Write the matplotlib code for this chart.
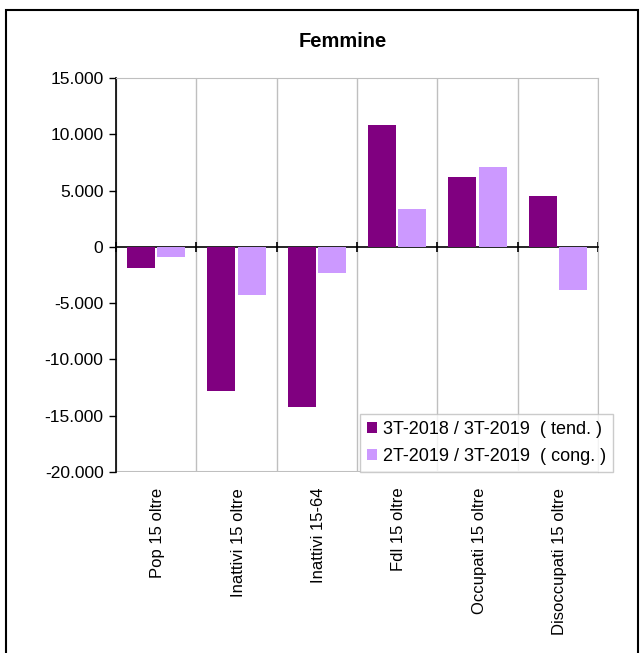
import numpy as np
import matplotlib.pyplot as plt
from matplotlib.patches import Rectangle
from matplotlib.ticker import FuncFormatter

plt.rcParams['font.family'] = ['Liberation Sans', 'DejaVu Sans']

# Data
categories = ['Pop 15 oltre', 'Inattivi 15 oltre', 'Inattivi 15-64',
              'Fdl 15 oltre', 'Occupati 15 oltre', 'Disoccupati 15 oltre']
tend = [-1900, -12800, -14200, 10800, 6200, 4500]
cong = [-900, -4300, -2300, 3400, 7100, -3800]
series_labels = ['3T-2018 / 3T-2019  ( tend. )', '2T-2019 / 3T-2019  ( cong. )']
yticks = [-20000, -15000, -10000, -5000, 0, 5000, 10000, 15000]

dark = '#800080'
light = '#CC99FF'
grey = '#BFBFBF'

fig = plt.figure(figsize=(6.4, 6.53), dpi=100)
# outer chart frame
fig.patches.append(Rectangle((6 / 640, -0.05), 632 / 640, 1.05 - 10 / 653,
                             transform=fig.transFigure, fill=False,
                             edgecolor='black', linewidth=1.5))

ax = fig.add_axes([116 / 640, 1 - 472 / 653, 482 / 640, 394 / 653])

x = np.arange(len(categories))
w = 0.35
ax.bar(x - 0.19, tend, w, color=dark, label=series_labels[0], zorder=3)
ax.bar(x + 0.19, cong, w, color=light, label=series_labels[1], zorder=3)

ax.set_xlim(-0.5, len(categories) - 0.5)
ax.set_ylim(-20000, 15000)
ax.set_yticks(yticks)
ax.yaxis.set_major_formatter(FuncFormatter(lambda v, p: f'{int(v):,}'.replace(',', '.')))
ax.tick_params(axis='y', labelsize=12.5, direction='out', length=5, width=1, pad=4)

# x axis sits at zero, ticks at category boundaries
ax.spines['bottom'].set_position(('data', 0))
ax.spines['bottom'].set_color('black')
ax.spines['bottom'].set_linewidth(1.2)
ax.spines['left'].set_linewidth(1.2)
ax.spines['top'].set_color(grey)
ax.spines['right'].set_color(grey)
ax.set_xticks(np.arange(-0.5, len(categories), 1.0))
ax.set_xticklabels([])
ax.tick_params(axis='x', direction='inout', length=7, width=1.2)
ax.grid(axis='x', color=grey, linewidth=1, zorder=0)
ax.axhline(-20000, color=grey, linewidth=1.5, zorder=1)

for i, c in enumerate(categories):
    ax.text(i + 0.02, -0.04, c, transform=ax.get_xaxis_transform(), rotation=90,
            ha='center', va='top', fontsize=12)

ax.set_title('Femmine', fontsize=14.5, fontweight='bold', pad=22, x=0.47)

leg = ax.legend(loc='lower right', bbox_to_anchor=(1.031, 0.0), fontsize=13,
                handlelength=0.55, handleheight=0.55, handletextpad=0.3,
                frameon=True, fancybox=False, borderaxespad=0, labelspacing=0.55,
                borderpad=0.4)
leg.get_frame().set_edgecolor(grey)
leg.get_frame().set_linewidth(1)

fig.savefig('out.png', dpi=100)
